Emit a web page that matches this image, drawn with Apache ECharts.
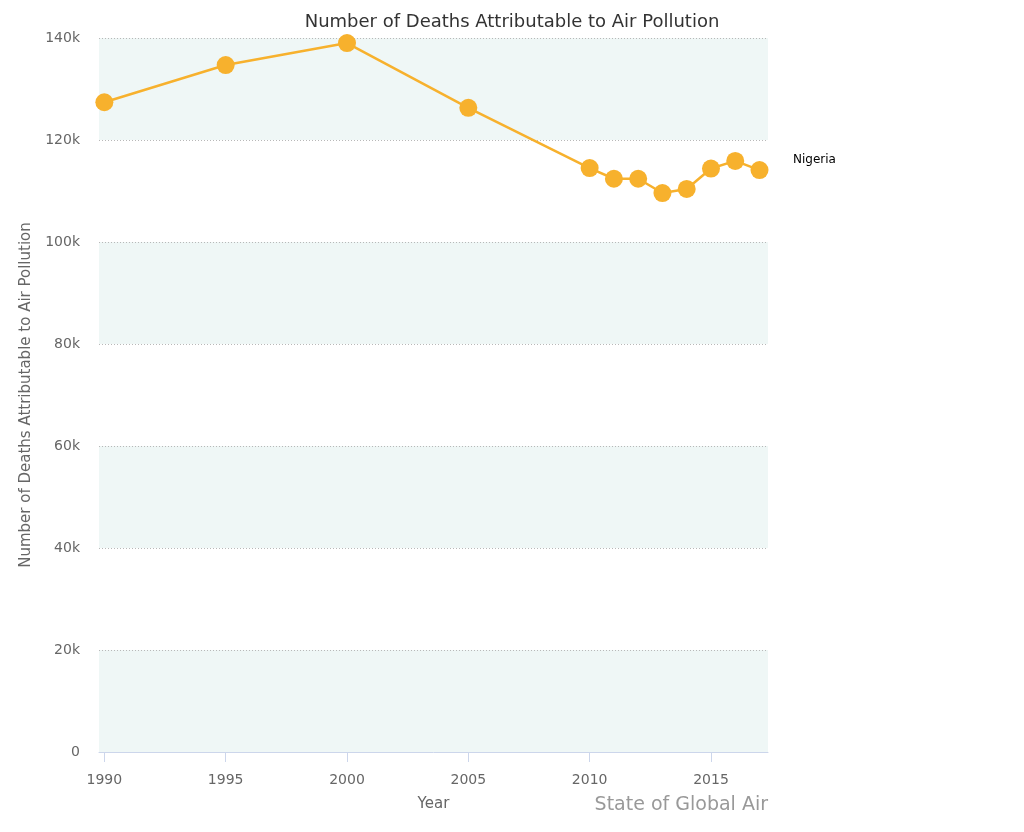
<!DOCTYPE html>
<html>
<head>
<meta charset="utf-8">
<script src="https://cdn.jsdelivr.net/npm/echarts@6/dist/echarts.min.js"></script>
<style>html,body{margin:0;padding:0;background:#fff;}#c{width:1024px;height:832px;}</style>
</head>
<body>
<div id="c"></div>
<script>
const years = [1990, 1995, 2000, 2005, 2010, 2011, 2012, 2013, 2014, 2015, 2016, 2017];
const deaths = [127400, 134700, 139000, 126300, 114500, 112400, 112400, 109600, 110400, 114400, 115900, 114100];
const seriesName = 'Nigeria';
const xTicks = [1990, 1995, 2000, 2005, 2010, 2015];
const yTicks = [0, 20000, 40000, 60000, 80000, 100000, 120000, 140000];
const font = 'DejaVu Sans';

const chart = echarts.init(document.getElementById('c'));
chart.setOption({
  backgroundColor: '#ffffff',
  animation: false,
  title: {
    text: 'Number of Deaths Attributable to Air Pollution',
    left: 'center', top: 8,
    textStyle: { fontFamily: font, fontSize: 18, fontWeight: 'normal', color: '#333333' }
  },
  legend: {
    left: 783, top: 149, orient: 'vertical',
    data: [{ name: seriesName, icon: 'none' }],
    itemWidth: 0, itemHeight: 0,
    textStyle: { fontFamily: font, fontSize: 12, color: '#000000' }
  },
  grid: { left: 99, right: 256, top: 38, bottom: 80 },
  xAxis: {
    type: 'value', min: 1989.78, max: 2017.35,
    name: 'Year', nameLocation: 'middle', nameGap: 45,
    nameTextStyle: { fontFamily: font, fontSize: 15, color: '#666666' },
    axisLine: { show: true, lineStyle: { color: '#ccd6eb', width: 1 } },
    axisTick: { show: true, customValues: xTicks, length: 10, lineStyle: { color: '#ccd6eb' } },
    axisLabel: { customValues: xTicks, fontFamily: font, fontSize: 14, color: '#666666', margin: 21,
      formatter: v => String(v) },
    splitLine: { show: false }
  },
  yAxis: {
    type: 'value', min: 0, max: 140000, interval: 20000,
    name: 'Number of Deaths Attributable to Air Pollution', nameLocation: 'middle', nameGap: 65,
    nameTextStyle: { fontFamily: font, fontSize: 15, color: '#666666' },
    axisLine: { show: false }, axisTick: { show: false },
    axisLabel: {
      fontFamily: font, fontSize: 14, color: '#666666', margin: 19, padding: [6, 0, 0, 0],
      formatter: v => v === 0 ? '0' : (v / 1000) + 'k'
    },
    splitLine: { show: true, lineStyle: { color: '#b8b8b8', type: [1, 2], width: 1 } },
    splitArea: { show: true, areaStyle: { color: ['rgba(226,240,238,0.55)', 'rgba(255,255,255,0)'] } }
  },
  series: [{
    name: seriesName, type: 'line',
    data: years.map((y, i) => [y, deaths[i]]),
    symbol: 'circle', symbolSize: 18,
    itemStyle: { color: '#f7b12d' },
    lineStyle: { color: '#f7b12d', width: 2.5 },
    z: 5
  }],
  graphic: [{
    type: 'text', right: 256, top: 796,
    style: { text: 'State of Global Air', fontFamily: font, fontSize: 19, fill: '#999999' }
  }]
});
</script>
</body>
</html>
